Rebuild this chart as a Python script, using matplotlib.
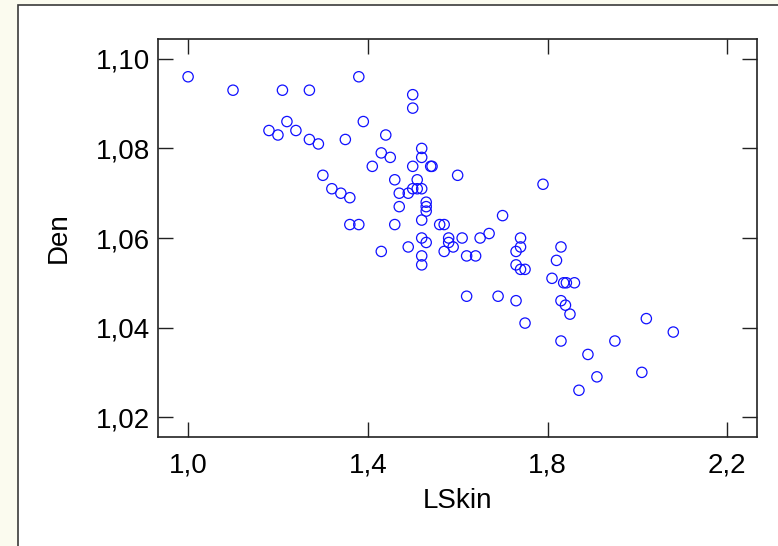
import matplotlib

matplotlib.use("Agg")
import matplotlib.pyplot as plt
from matplotlib.patches import Rectangle
from matplotlib.ticker import FuncFormatter, FixedLocator

plt.rcParams["font.family"] = ["Liberation Sans", "DejaVu Sans"]

# LSkin (x) vs Den (y)
lskin = [1.00, 1.10, 1.21, 1.27, 1.38, 1.50, 1.50, 1.22, 1.39, 1.18,
         1.20, 1.24, 1.27, 1.29, 1.35, 1.44, 1.52, 1.43, 1.45, 1.52,
         1.41, 1.50, 1.54, 1.543, 1.30, 1.60, 1.46, 1.51, 1.79, 1.32,
         1.50, 1.51, 1.52, 1.34, 1.47, 1.49, 1.36, 1.53, 1.47, 1.53,
         1.53, 1.70, 1.52, 1.36, 1.38, 1.46, 1.56, 1.57, 1.67, 1.52,
         1.58, 1.61, 1.65, 1.74, 1.53, 1.58, 1.49, 1.59, 1.74, 1.83,
         1.43, 1.57, 1.73, 1.52, 1.62, 1.64, 1.82, 1.52, 1.73, 1.74,
         1.75, 1.81, 1.836, 1.842, 1.86, 1.62, 1.69, 1.73, 1.83, 1.84,
         1.85, 2.02, 1.75, 2.08, 1.83, 1.95, 1.89, 2.01, 1.91, 1.87]
den = [1.096, 1.093, 1.093, 1.093, 1.096, 1.092, 1.089, 1.086, 1.086, 1.084,
       1.083, 1.084, 1.082, 1.081, 1.082, 1.083, 1.080, 1.079, 1.078, 1.078,
       1.076, 1.076, 1.076, 1.076, 1.074, 1.074, 1.073, 1.073, 1.072, 1.071,
       1.071, 1.071, 1.071, 1.070, 1.070, 1.070, 1.069, 1.068, 1.067, 1.067,
       1.066, 1.065, 1.064, 1.063, 1.063, 1.063, 1.063, 1.063, 1.061, 1.060,
       1.060, 1.060, 1.060, 1.060, 1.059, 1.059, 1.058, 1.058, 1.058, 1.058,
       1.057, 1.057, 1.057, 1.056, 1.056, 1.056, 1.055, 1.054, 1.054, 1.053,
       1.053, 1.051, 1.050, 1.050, 1.050, 1.047, 1.047, 1.046, 1.046, 1.045,
       1.043, 1.042, 1.041, 1.039, 1.037, 1.037, 1.034, 1.030, 1.029, 1.026]

x_ticks = [1.0, 1.4, 1.8, 2.2]
y_ticks = [1.02, 1.04, 1.06, 1.08, 1.10]

fig = plt.figure(figsize=(7.78, 5.46), dpi=100, facecolor="#fbfbef")
# white inner panel with a dark frame on its top/left edge
fig.patches.append(Rectangle((18 / 778, -0.05), 1.1, 0.05 + 541 / 546,
                             transform=fig.transFigure, facecolor="white",
                             edgecolor="#3a3a3a", lw=1.2, zorder=-1))

ax = fig.add_axes([158 / 778, (546 - 437.3) / 546, 599.3 / 778, 398.6 / 546])
ax.set_zorder(1)
ax.scatter(lskin, den, s=55, facecolors="none", edgecolors="#1010ff",
           linewidths=0.9, zorder=3)

ax.set_xlim(0.933, 2.267)
ax.set_ylim(1.0155, 1.1045)
ax.xaxis.set_major_locator(FixedLocator(x_ticks))
ax.yaxis.set_major_locator(FixedLocator(y_ticks))
ax.xaxis.set_major_formatter(FuncFormatter(lambda v, _: f"{v:.1f}".replace(".", ",")))
ax.yaxis.set_major_formatter(FuncFormatter(lambda v, _: f"{v:.2f}".replace(".", ",")))
ax.tick_params(direction="in", top=True, right=True, length=10.8, width=1.0,
               labelsize=20, color="#222222", labelcolor="black")
ax.tick_params(axis="x", pad=11)
ax.tick_params(axis="y", pad=6)
for sp in ax.spines.values():
    sp.set_linewidth(1.2)
    sp.set_color("#222222")

ax.set_xlabel("LSkin", fontsize=20, labelpad=7)
ax.set_ylabel("Den", fontsize=20, labelpad=17)

fig.savefig("out.png", dpi=100, facecolor=fig.get_facecolor())
